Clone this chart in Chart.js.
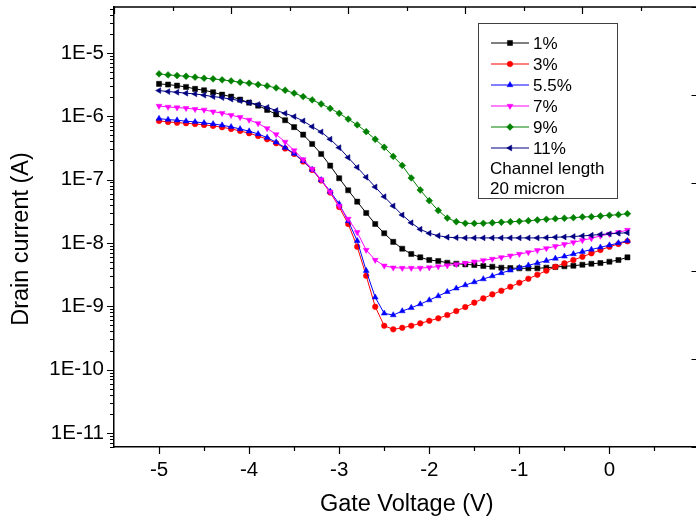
<!DOCTYPE html>
<html>
<head>
<meta charset="utf-8">
<script src="https://cdn.jsdelivr.net/npm/chart.js@4.4.1/dist/chart.umd.min.js"></script>
<style>
  html, body { margin: 0; padding: 0; overflow: hidden; background: #fff; }
  #wrap { width: 696px; height: 521px; overflow: hidden; }
</style>
</head>
<body>
<div id="wrap"><canvas id="chart-area" width="704" height="521"></canvas></div>
<script>
// gate voltage sweep (V)
const gateVoltage = [
  -5.0, -4.9, -4.8, -4.7, -4.6, -4.5, -4.4, -4.3, -4.2, -4.1,
  -4.0, -3.9, -3.8, -3.7, -3.6, -3.5, -3.4, -3.3, -3.2, -3.1,
  -3.0, -2.9, -2.8, -2.7, -2.6, -2.5, -2.4, -2.3, -2.2, -2.1,
  -2.0, -1.9, -1.8, -1.7, -1.6, -1.5, -1.4, -1.3, -1.2, -1.1,
  -1.0, -0.9, -0.8, -0.7, -0.6, -0.5, -0.4, -0.3, -0.2, -0.1,
  0.0, 0.1, 0.2
];

// drain current (A)
const current1 = [
  3.24e-6, 3.16e-6, 3.04e-6, 2.90e-6, 2.70e-6, 2.57e-6, 2.39e-6, 2.19e-6, 2.04e-6, 1.83e-6,
  1.64e-6, 1.47e-6, 1.26e-6, 1.07e-6, 8.65e-7, 6.73e-7, 5.12e-7, 3.65e-7, 2.54e-7, 1.66e-7,
  1.05e-7, 6.78e-8, 4.48e-8, 2.97e-8, 1.99e-8, 1.42e-8, 1.04e-8, 8.10e-9, 6.68e-9, 5.92e-9,
  5.37e-9, 5.18e-9, 4.87e-9, 4.69e-9, 4.59e-9, 4.48e-9, 4.32e-9, 4.21e-9, 4.06e-9, 4.01e-9,
  3.97e-9, 3.97e-9, 3.97e-9, 4.06e-9, 4.16e-9, 4.27e-9, 4.36e-9, 4.52e-9, 4.69e-9, 4.81e-9,
  5.05e-9, 5.37e-9, 5.92e-9
];
const current3 = [
  8.43e-7, 8.13e-7, 7.92e-7, 7.75e-7, 7.55e-7, 7.29e-7, 7.03e-7, 6.70e-7, 6.30e-7, 5.86e-7,
  5.39e-7, 4.88e-7, 4.33e-7, 3.75e-7, 3.10e-7, 2.54e-7, 1.93e-7, 1.42e-7, 9.68e-8, 6.26e-8,
  3.69e-8, 1.99e-8, 8.71e-9, 3.03e-9, 9.82e-10, 4.92e-10, 4.32e-10, 4.57e-10, 4.92e-10, 5.37e-10,
  5.90e-10, 6.44e-10, 7.26e-10, 8.40e-10, 9.71e-10, 1.14e-9, 1.33e-9, 1.54e-9, 1.76e-9, 2.03e-9,
  2.35e-9, 2.72e-9, 3.15e-9, 3.64e-9, 4.21e-9, 4.76e-9, 5.37e-9, 6.05e-9, 6.85e-9, 7.72e-9,
  8.71e-9, 9.61e-9, 1.06e-8
];
const current55 = [
  9.17e-7, 8.84e-7, 8.65e-7, 8.34e-7, 8.13e-7, 7.84e-7, 7.55e-7, 7.21e-7, 6.78e-7, 6.30e-7,
  5.80e-7, 5.25e-7, 4.59e-7, 3.89e-7, 3.19e-7, 2.58e-7, 1.97e-7, 1.44e-7, 9.86e-8, 6.49e-8,
  4.12e-8, 2.22e-8, 1.08e-8, 3.64e-9, 1.38e-9, 7.72e-10, 7.26e-10, 8.40e-10, 9.47e-10, 1.08e-9,
  1.25e-9, 1.45e-9, 1.69e-9, 1.92e-9, 2.16e-9, 2.41e-9, 2.69e-9, 3.00e-9, 3.35e-9, 3.69e-9,
  4.06e-9, 4.43e-9, 4.81e-9, 5.23e-9, 5.67e-9, 6.14e-9, 6.68e-9, 7.26e-9, 7.86e-9, 8.52e-9,
  9.20e-9, 9.96e-9, 1.08e-8
];
const current7 = [
  1.45e-6, 1.40e-6, 1.37e-6, 1.34e-6, 1.29e-6, 1.26e-6, 1.18e-6, 1.12e-6, 1.04e-6, 9.64e-7,
  8.74e-7, 7.70e-7, 6.42e-7, 5.16e-7, 3.93e-7, 2.88e-7, 2.08e-7, 1.47e-7, 1.00e-7, 6.37e-8,
  3.83e-8, 2.39e-8, 1.47e-8, 7.72e-9, 5.37e-9, 4.36e-9, 4.06e-9, 4.01e-9, 4.01e-9, 4.01e-9,
  4.09e-9, 4.24e-9, 4.40e-9, 4.59e-9, 4.81e-9, 5.05e-9, 5.31e-9, 5.57e-9, 5.92e-9, 6.28e-9,
  6.68e-9, 7.10e-9, 7.64e-9, 8.21e-9, 8.84e-9, 9.50e-9, 1.02e-8, 1.10e-8, 1.18e-8, 1.29e-8,
  1.38e-8, 1.47e-8, 1.60e-8
];
const current9 = [
  4.66e-6, 4.49e-6, 4.38e-6, 4.28e-6, 4.13e-6, 3.98e-6, 3.89e-6, 3.75e-6, 3.61e-6, 3.44e-6,
  3.32e-6, 3.16e-6, 3.01e-6, 2.80e-6, 2.57e-6, 2.31e-6, 2.04e-6, 1.81e-6, 1.56e-6, 1.33e-6,
  1.11e-6, 9.00e-7, 7.29e-7, 5.71e-7, 4.33e-7, 3.24e-7, 2.32e-7, 1.67e-7, 1.06e-7, 6.85e-8,
  4.64e-8, 3.25e-8, 2.47e-8, 2.16e-8, 2.04e-8, 2.03e-8, 2.04e-8, 2.08e-8, 2.12e-8, 2.16e-8,
  2.19e-8, 2.24e-8, 2.30e-8, 2.36e-8, 2.41e-8, 2.45e-8, 2.50e-8, 2.57e-8, 2.59e-8, 2.66e-8,
  2.73e-8, 2.79e-8, 2.89e-8
];
const current11 = [
  2.54e-6, 2.45e-6, 2.39e-6, 2.31e-6, 2.25e-6, 2.15e-6, 2.04e-6, 1.97e-6, 1.86e-6, 1.76e-6,
  1.64e-6, 1.53e-6, 1.38e-6, 1.23e-6, 1.11e-6, 9.86e-7, 8.43e-7, 6.85e-7, 5.65e-7, 4.33e-7,
  3.19e-7, 2.23e-7, 1.56e-7, 1.09e-7, 7.64e-8, 5.37e-8, 3.83e-8, 2.76e-8, 2.08e-8, 1.64e-8,
  1.42e-8, 1.30e-8, 1.23e-8, 1.21e-8, 1.20e-8, 1.20e-8, 1.20e-8, 1.20e-8, 1.20e-8, 1.20e-8,
  1.20e-8, 1.20e-8, 1.20e-8, 1.21e-8, 1.23e-8, 1.24e-8, 1.26e-8, 1.29e-8, 1.32e-8, 1.36e-8,
  1.39e-8, 1.42e-8, 1.45e-8
];

const seriesLabels = ['1%', '3%', '5.5%', '7%', '9%', '11%'];
const seriesColors = ['#000000', '#ff0000', '#0000ff', '#ff00ff', '#008000', '#000080'];
const noteLines = ['Channel length', '20 micron'];
const yTitle = 'Drain current (A)';

// axis ticks
const xTicks = [-5, -4.5, -4, -3.5, -3, -2.5, -2, -1.5, -1, -0.5, 0, 0.5];
const yDecades = [-12, -11, -10, -9, -8, -7, -6, -5];
const topTicks = [0, 1, 2, 3, 4, 5, 6, 7, 8, 9, 10];
const rightTicks = [0, 1, 2, 3, 4, 5];

const FONT = '"Liberation Sans", Arial, sans-serif';

const allCurrents = [current1, current3, current55, current7, current9, current11];
const markers = [
  {style: 'rect', rot: 0, r: 3.6},
  {style: 'circle', rot: 0, r: 2.8},
  {style: 'triangle', rot: 0, r: 3.4},
  {style: 'triangle', rot: 180, r: 3.4},
  {style: 'rectRot', rot: 0, r: 3.4},
  {style: 'triangle', rot: -90, r: 3.4}
];

const datasets = allCurrents.map((cur, i) => ({
  label: seriesLabels[i],
  data: gateVoltage.map((v, k) => ({x: v, y: cur[k]})),
  borderColor: seriesColors[i],
  backgroundColor: seriesColors[i],
  pointBackgroundColor: seriesColors[i],
  pointBorderColor: seriesColors[i],
  borderWidth: 1,
  pointStyle: markers[i].style,
  pointRotation: markers[i].rot,
  pointRadius: markers[i].r,
  pointBorderWidth: 0.5,
  tension: 0,
  order: 5 - i
}));

const axisDeco = {
  id: 'axisDeco',
  afterDraw(chart) {
    const {ctx, chartArea: a, scales} = chart;
    ctx.save();
    ctx.strokeStyle = '#000';
    ctx.lineWidth = 1.5;
    ctx.beginPath();
    ctx.moveTo(a.left, a.top);
    ctx.lineTo(a.right, a.top);
    ctx.lineTo(a.right, a.bottom);
    ctx.stroke();

    ctx.lineWidth = 1.2;
    ctx.beginPath();
    scales.x.ticks.forEach(t => {
      const px = Math.round(scales.x.getPixelForValue(t.value)) + 0.5;
      const len = Number.isInteger(t.value) ? 7 : 4;
      ctx.moveTo(px, a.bottom);
      ctx.lineTo(px, a.bottom + len);
    });
    scales.y.ticks.forEach(t => {
      const py = Math.round(scales.y.getPixelForValue(t.value)) + 0.5;
      const len = t.major ? 7 : 4;
      ctx.moveTo(a.left - len, py);
      ctx.lineTo(a.left, py);
    });
    topTicks.forEach(v => {
      const px = Math.round(scales.x2.getPixelForValue(v)) + 0.5;
      const len = v % 2 === 0 ? 7 : 4;
      ctx.moveTo(px, a.top);
      ctx.lineTo(px, a.top + len);
    });
    rightTicks.forEach(v => {
      const py = Math.round(scales.y2.getPixelForValue(v)) + 0.5;
      ctx.moveTo(a.right - 8, py);
      ctx.lineTo(a.right, py);
    });
    ctx.stroke();

    // y title (Origin places it a bit below the axis middle)
    ctx.save();
    ctx.translate(22, 239);
    ctx.rotate(-Math.PI / 2);
    ctx.font = '23.5px ' + FONT;
    ctx.fillStyle = '#000';
    ctx.textAlign = 'center';
    ctx.textBaseline = 'middle';
    ctx.fillText(yTitle, 0, 0);
    ctx.restore();

    // legend
    ctx.fillStyle = '#fff';
    ctx.fillRect(478, 23, 139, 175);
    ctx.strokeStyle = '#404040';
    ctx.lineWidth = 1;
    ctx.strokeRect(478.5, 23.5, 139, 175);
    ctx.font = '17px ' + FONT;
    ctx.textBaseline = 'middle';
    ctx.textAlign = 'left';
    chart.data.datasets.forEach((ds, i) => {
      const y = 43 + i * 21;
      ctx.strokeStyle = ds.borderColor;
      ctx.lineWidth = 1.2;
      ctx.beginPath();
      ctx.moveTo(491, y);
      ctx.lineTo(529, y);
      ctx.stroke();
      ctx.fillStyle = ds.pointBackgroundColor;
      ctx.lineWidth = 0.5;
      Chart.helpers.drawPoint(ctx, {
        pointStyle: ds.pointStyle, rotation: ds.pointRotation,
        radius: ds.pointRadius, borderWidth: 0.5
      }, 510, y);
      ctx.fillStyle = '#000';
      ctx.fillText(ds.label, 533, y + 1);
    });
    noteLines.forEach((txt, j) => {
      ctx.fillText(txt, 490, 169 + j * 20);
    });
    ctx.restore();
  }
};

const ctx = document.getElementById('chart-area').getContext('2d');
const chart = new Chart(ctx, {
  type: 'line',
  data: {datasets: datasets},
  options: {
    responsive: false,
    animation: false,
    events: [],
    layout: {padding: {top: 7, right: 4, left: 0, bottom: 0}},
    plugins: {
      legend: {display: false},
      tooltip: {enabled: false}
    },
    scales: {
      x: {
        type: 'linear',
        min: -5.5,
        max: 1.0,
        afterBuildTicks(scale) {
          scale.ticks = xTicks.map(v => ({value: v}));
        },
        afterFit(scale) {
          scale.height = 74;
          scale.paddingLeft = 0;
          scale.paddingRight = 0;
        },
        grid: {display: false, drawTicks: false},
        border: {display: true, color: '#000', width: 1.5},
        ticks: {
          autoSkip: false,
          maxRotation: 0,
          padding: 11,
          color: '#000',
          font: {family: FONT, size: 20.5},
          callback: (v) => Number.isInteger(v) ? String(v) : ''
        },
        title: {
          display: true,
          text: 'Gate Voltage (V)',
          color: '#000',
          font: {family: FONT, size: 23.5},
          padding: {top: 0, bottom: 2}
        }
      },
      y: {
        type: 'logarithmic',
        min: 6e-12,
        max: 5.3e-5,
        afterBuildTicks(scale) {
          const t = [];
          yDecades.forEach(e => {
            for (let m = 1; m <= 9; m++) {
              const v = Number(m + 'e' + e);
              if (v >= scale.min && v <= scale.max) t.push({value: v, major: m === 1});
            }
          });
          scale.ticks = t;
        },
        afterFit(scale) {
          scale.width = 114;
          scale.paddingTop = 0;
          scale.paddingBottom = 0;
        },
        grid: {display: false, drawTicks: false},
        border: {display: true, color: '#000', width: 1.5},
        ticks: {
          autoSkip: false,
          padding: 10,
          color: '#000',
          font: {family: FONT, size: 20.5},
          callback: (v, i, ticks) => ticks[i].major ? '1E' + Math.round(Math.log10(v)) : ''
        },
        title: {display: false}
      },
      x2: {
        axis: 'x', type: 'linear', position: 'top', display: false,
        min: 0, max: 10
      },
      y2: {
        axis: 'y', type: 'linear', position: 'right', display: false,
        min: 0, max: 5
      }
    }
  },
  plugins: [axisDeco]
});
</script>
</body>
</html>
